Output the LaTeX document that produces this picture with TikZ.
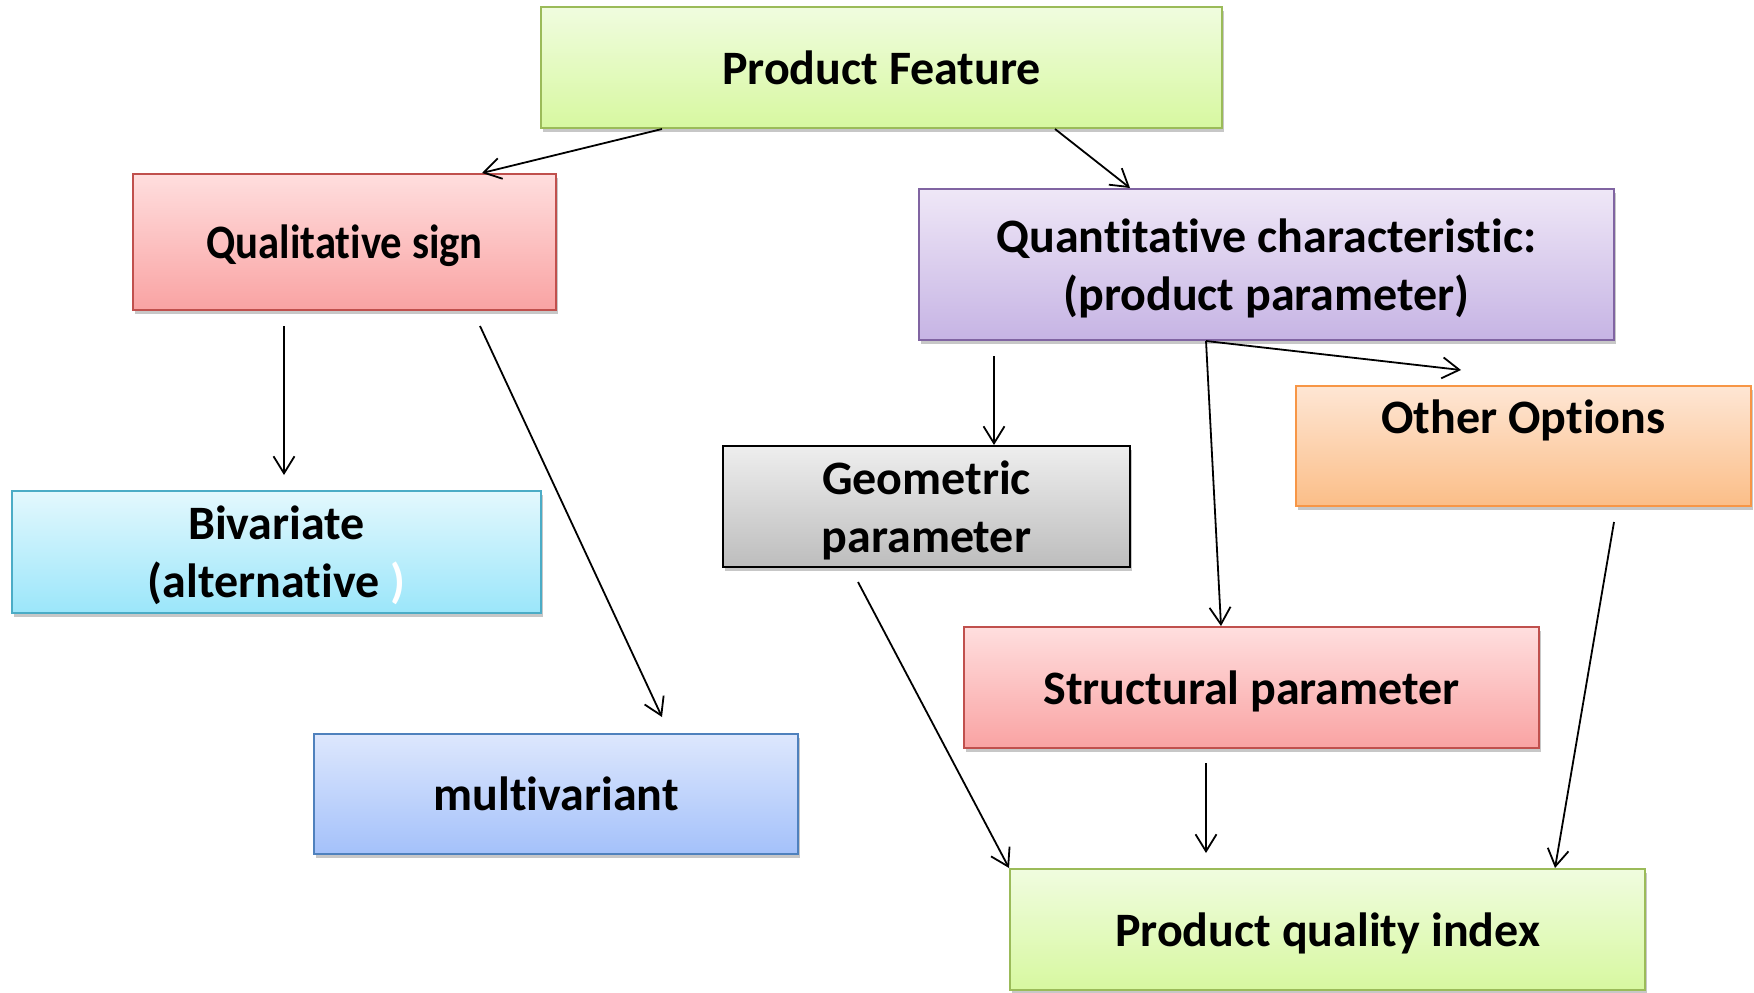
\documentclass[tikz,border=0pt]{standalone}
\usepackage{fontspec}
\setmainfont{Carlito}[Ligatures=NoCommon]
\usetikzlibrary{arrows.meta,shadows}
\definecolor{gTop}{HTML}{F0FCDF}\definecolor{gBot}{HTML}{D7F8A0}\definecolor{gLine}{HTML}{9BBB59}
\definecolor{rTop}{HTML}{FFDEDE}\definecolor{rBot}{HTML}{F9A3A3}\definecolor{rLine}{HTML}{C0504D}
\definecolor{pTop}{HTML}{EFE7F7}\definecolor{pBot}{HTML}{C6B4E4}\definecolor{pLine}{HTML}{8064A2}
\definecolor{cTop}{HTML}{E3F8FD}\definecolor{cBot}{HTML}{9BE6FA}\definecolor{cLine}{HTML}{4BACC6}
\definecolor{bTop}{HTML}{DDE7FD}\definecolor{bBot}{HTML}{A4C1FA}\definecolor{bLine}{HTML}{4F81BD}
\definecolor{kTop}{HTML}{EEEEEE}\definecolor{kBot}{HTML}{BDBDBD}
\definecolor{oTop}{HTML}{FEE6D4}\definecolor{oBot}{HTML}{FBBE88}\definecolor{oLine}{HTML}{F79646}
\tikzset{
  box/.style={rectangle, line width=1pt, align=center, inner sep=0pt, text depth=0pt,
    font=\bfseries\fontsize{24}{29}\selectfont,
    drop shadow={shadow xshift=0.8pt, shadow yshift=-2pt, opacity=0.22, fill=black}},
  greenbox/.style={box, draw=gLine, top color=gTop, bottom color=gBot},
  redbox/.style={box, draw=rLine, top color=rTop, bottom color=rBot},
  purplebox/.style={box, draw=pLine, top color=pTop, bottom color=pBot},
  cyanbox/.style={box, draw=cLine, top color=cTop, bottom color=cBot},
  bluebox/.style={box, draw=bLine, top color=bTop, bottom color=bBot},
  greybox/.style={box, draw=black, top color=kTop, bottom color=kBot},
  orangebox/.style={box, draw=oLine, top color=oTop, bottom color=oBot},
  conn/.style={line width=0.9pt, -{Straight Barb[length=8.5pt,width=10.5pt,line width=0.9pt]}}
}
\begin{document}
\begin{tikzpicture}[x=0.5pt,y=-0.5pt]
\useasboundingbox (0,0) rectangle (1754,992);
\node[greenbox, minimum width=340.5pt, minimum height=60.5pt] (pf) at (881.5,67.5) {Product Feature};
\node[redbox, minimum width=211.5pt, minimum height=68pt] (qual) at (344.5,242) {\scalebox{0.89}[1]{Qualitative sign}};
\node[purplebox, minimum width=347.5pt, minimum height=75.5pt] (quant) at (1266.5,264.5) {Quantitative characteristic:\\(product parameter)};
\node[orangebox, minimum width=227.5pt, minimum height=60pt] (other) at (1523.5,446) {Other Options\\\strut};
\node[greybox, minimum width=203.5pt, minimum height=60.5pt] (geo) at (926.5,506.5) {Geometric\\parameter};
\node[cyanbox, minimum width=264.5pt, minimum height=61pt] (biv) at (276.5,552) {Bivariate\\(alternative \textcolor{white}{)}};
\node[bluebox, minimum width=242pt, minimum height=60pt] (multi) at (556,794) {multivariant};
\node[redbox, minimum width=287.5pt, minimum height=60.5pt] (struct) at (1251.5,687.5) {Structural parameter};
\node[greenbox, minimum width=317.5pt, minimum height=60.5pt] (pqi) at (1327.5,929.5) {Product quality index};
% free ends
\coordinate (qualA) at (284,326);
\coordinate (bivA) at (284,475);
\coordinate (qualB) at (480,326);
\coordinate (multiA) at (662,717);
\coordinate (quantA) at (994,356);
\coordinate (otherA) at (1461,370);
\coordinate (geoA) at (858,582);
\coordinate (structA) at (1206,763);
\coordinate (pqiA) at (1206,853);
\coordinate (otherB) at (1614,522);
% connectors
\draw[conn] (pf.south -| 662,0) -- (qual.north -| 482,0);
\draw[conn] (pf.south -| 1055,0) -- (quant.north -| 1130,0);
\draw[conn] (qualA) -- (bivA);
\draw[conn] (qualB) -- (multiA);
\draw[conn] (quantA) -- (geo.north -| quantA);
\draw[conn] (quant.south -| 1206,0) -- (otherA);
\draw[conn] (quant.south -| 1206,0) -- (struct.north -| 1221,0);
\draw[conn] (geoA) -- (pqi.north west);
\draw[conn] (structA) -- (pqiA);
\draw[conn] (otherB) -- (pqi.north -| 1555,0);
\end{tikzpicture}
\end{document}
